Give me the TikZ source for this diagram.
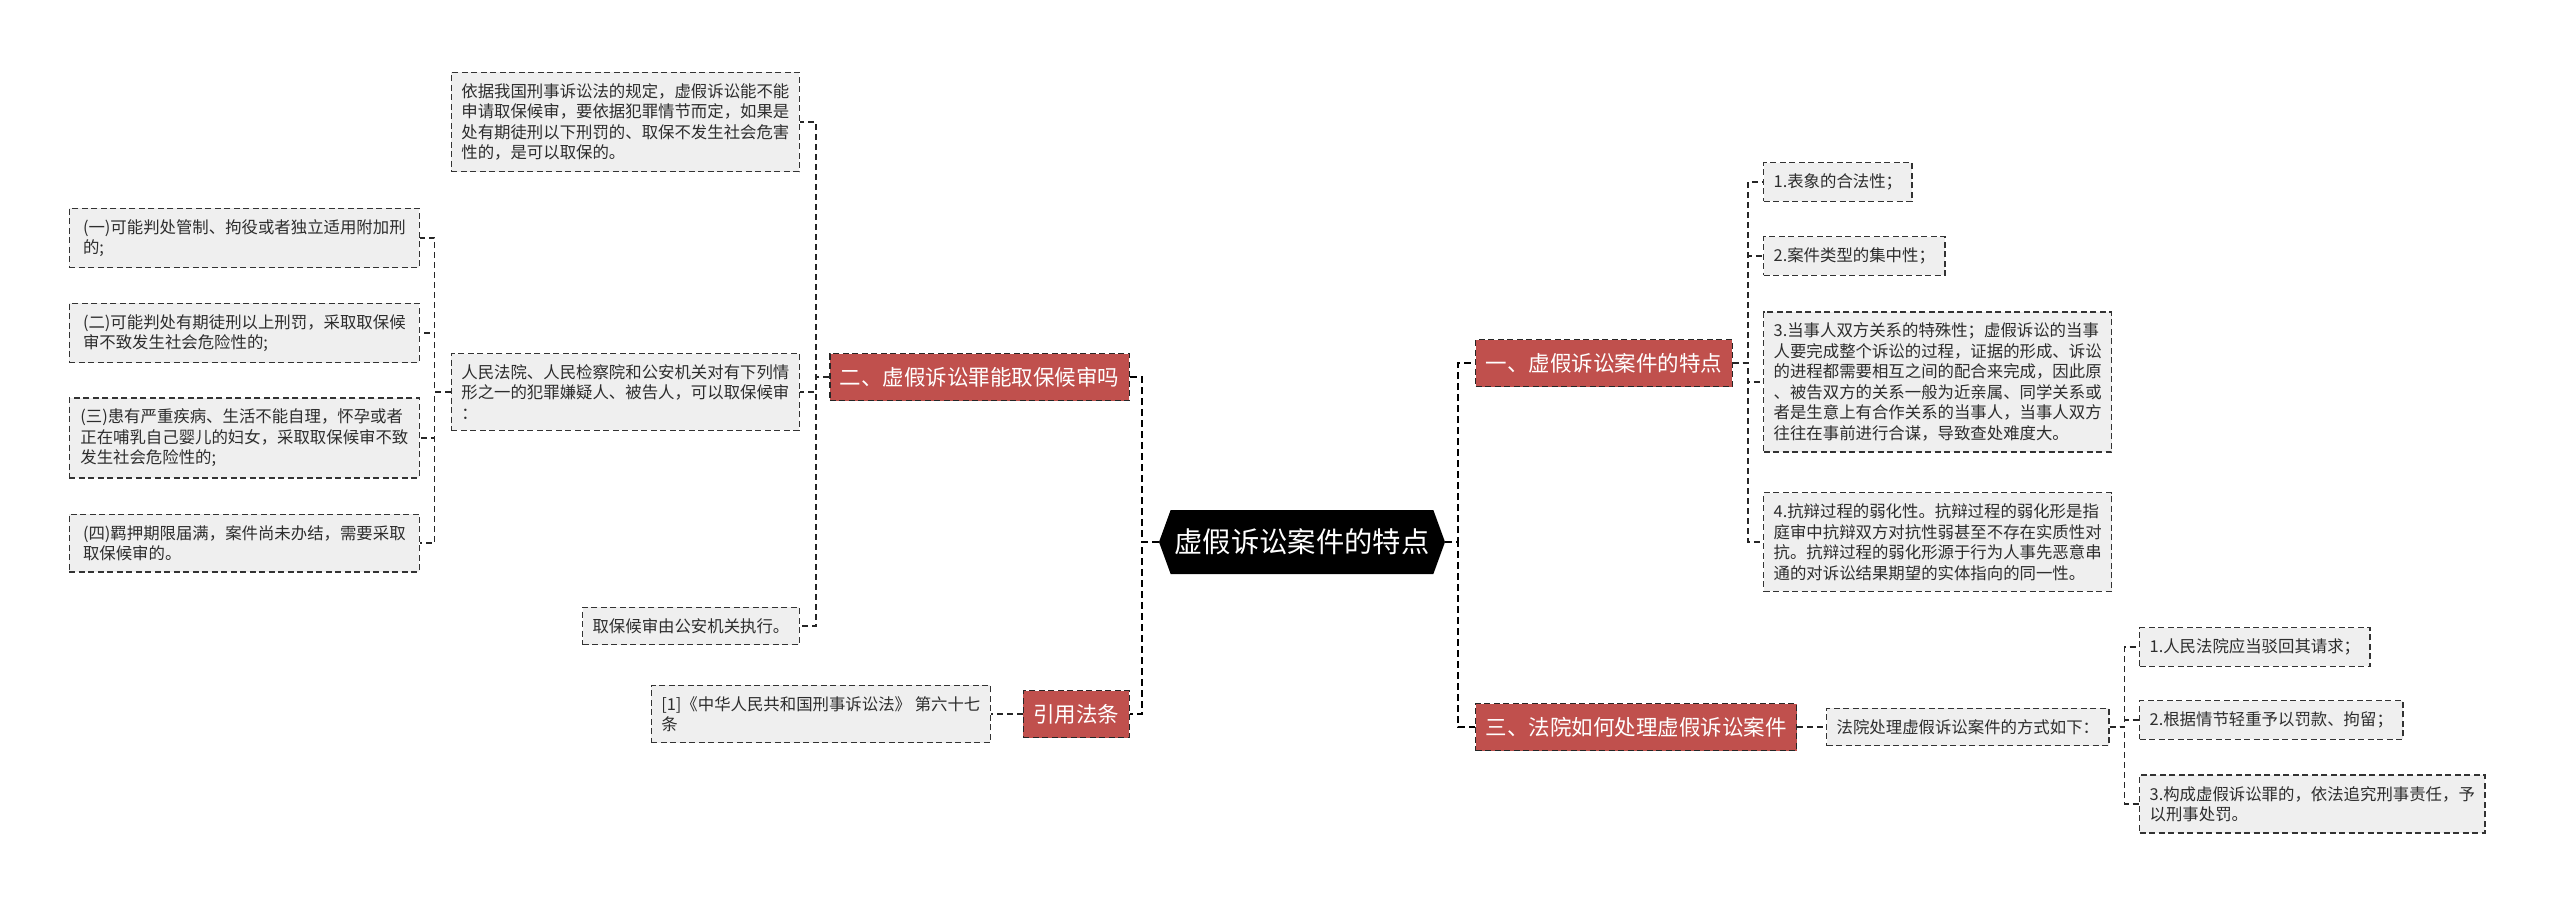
\documentclass[tikz,border=0pt]{standalone}
\usepackage{fontspec}
\newfontfamily\cjk{Noto Sans CJK SC}
\usetikzlibrary{positioning, shapes.symbols}

\begin{document}
\begin{tikzpicture}[
    x=1pt, y=-1pt,
    rootnode/.style={shape=signal, signal to=east and west, signal pointer angle=140,
                     fill=black, text=white, inner xsep=4pt, minimum height=64pt,
                     font=\cjk\fontsize{28.3}{34}\selectfont},
    topic/.style={draw=black!85, line width=1.4pt, dash pattern=on 6pt off 3.5pt,
                  fill=topicRed, text=white, inner xsep=10pt, inner ysep=0pt,
                  minimum height=47pt, font=\cjk\fontsize{21.5}{26}\selectfont},
    leaf/.style={draw=black!80, line width=1.3pt, dash pattern=on 6pt off 3.5pt,
                 fill=leafFill, text=leafText, inner xsep=10pt, inner ysep=11pt,
                 align=left, font=\cjk\fontsize{16.4}{20.5}\selectfont},
    wideleaf/.style={leaf, minimum width=350pt},
    trunk/.style={draw=black, line width=2.2pt, dash pattern=on 7pt off 4pt},
    link/.style={draw=black!85, line width=1.5pt, dash pattern=on 6pt off 4pt},
]

\definecolor{topicRed}{RGB}{192,80,77}    % red topic boxes
\definecolor{leafFill}{RGB}{239,239,239}  % light grey leaves
\definecolor{leafText}{RGB}{45,45,45}

\useasboundingbox (0,0) rectangle (2560,906);

% ============================================================
% ROOT AND MAIN TOPICS
% ============================================================
\node[rootnode] (root) at (1302,542) {虚假诉讼案件的特点};

\node[topic, anchor=east] (bail)  at (1130,377) {二、虚假诉讼罪能取保候审吗};
\node[topic, anchor=east] (cite)  at (1130,714) {引用法条};
\node[topic, anchor=west] (trait) at (1475,363) {一、虚假诉讼案件的特点};
\node[topic, anchor=west] (court) at (1475,727) {三、法院如何处理虚假诉讼案件};

% ============================================================
% LEFT BRANCHES (bail, cite)
% ============================================================
\node[leaf, anchor=east] (bailA) at (800,122) {依据我国刑事诉讼法的规定，虚假诉讼能不能\\
    申请取保候审，要依据犯罪情节而定，如果是\\
    处有期徒刑以下刑罚的、取保不发生社会危害\\
    性的，是可以取保的。};
\node[leaf, anchor=east] (bailB) at (800,392) {人民法院、人民检察院和公安机关对有下列情\\
    形之一的犯罪嫌疑人、被告人，可以取保候审\\
    ：};
\node[leaf, anchor=east] (bailC) at (800,626) {取保候审由公安机关执行。};

% cases listed under bailB
\node[wideleaf, anchor=east] (caseA) at (420,238) {(一)可能判处管制、拘役或者独立适用附加刑\\
    的;};
\node[wideleaf, anchor=east] (caseB) at (420,333) {(二)可能判处有期徒刑以上刑罚，采取取保候\\
    审不致发生社会危险性的;};
\node[wideleaf, anchor=east] (caseC) at (420,438) {(三)患有严重疾病、生活不能自理，怀孕或者\\
    正在哺乳自己婴儿的妇女，采取取保候审不致\\
    发生社会危险性的;};
\node[wideleaf, anchor=east] (caseD) at (420,543) {(四)羁押期限届满，案件尚未办结，需要采取\\
    取保候审的。};

\node[leaf, anchor=east] (law) at (991,714) {[1]《中华人民共和国刑事诉讼法》 第六十七\\
    条};

% ============================================================
% RIGHT BRANCHES (trait, court)
% ============================================================
\node[leaf, anchor=west] (traitA) at (1763,182) {1.表象的合法性；};
\node[leaf, anchor=west] (traitB) at (1763,256) {2.案件类型的集中性；};
\node[leaf, anchor=west] (traitC) at (1763,382) {3.当事人双方关系的特殊性；虚假诉讼的当事\\
    人要完成整个诉讼的过程，证据的形成、诉讼\\
    的进程都需要相互之间的配合来完成，因此原\\
    、被告双方的关系一般为近亲属、同学关系或\\
    者是生意上有合作关系的当事人，当事人双方\\
    往往在事前进行合谋，导致查处难度大。};
\node[leaf, anchor=west] (traitD) at (1763,542) {4.抗辩过程的弱化性。抗辩过程的弱化形是指\\
    庭审中抗辩双方对抗性弱甚至不存在实质性对\\
    抗。抗辩过程的弱化形源于行为人事先恶意串\\
    通的对诉讼结果期望的实体指向的同一性。};

\node[leaf, anchor=west] (way) at (1826,727) {法院处理虚假诉讼案件的方式如下：};
\node[leaf, anchor=west] (wayA) at (2139,647) {1.人民法院应当驳回其请求；};
\node[leaf, anchor=west] (wayB) at (2139,720) {2.根据情节轻重予以罚款、拘留；};
\node[leaf, anchor=west] (wayC) at (2139,804) {3.构成虚假诉讼罪的，依法追究刑事责任，予\\
    以刑事处罚。};

% ============================================================
% CONNECTORS
% ============================================================
\foreach \n in {bail, cite}
    \draw[trunk] (root.west) -- ++(-17,0) |- (\n.east);
\foreach \n in {trait, court}
    \draw[trunk] (root.east) -- ++(13,0) |- (\n.west);

\foreach \n in {bailA, bailB, bailC}
    \draw[link] (bail.west) -- ++(-13,0) |- (\n.east);
\foreach \n in {caseA, caseB, caseC, caseD}
    \draw[link] (bailB.west) -- ++(-16,0) |- (\n.east);
\draw[link] (cite.west) -- (law.east);

\foreach \n in {traitA, traitB, traitC, traitD}
    \draw[link] (trait.east) -- ++(15,0) |- (\n.west);
\draw[link] (court.east) -- (way.west);
\foreach \n in {wayA, wayB, wayC}
    \draw[link] (way.east) -- ++(15,0) |- (\n.west);

\end{tikzpicture}
\end{document}
